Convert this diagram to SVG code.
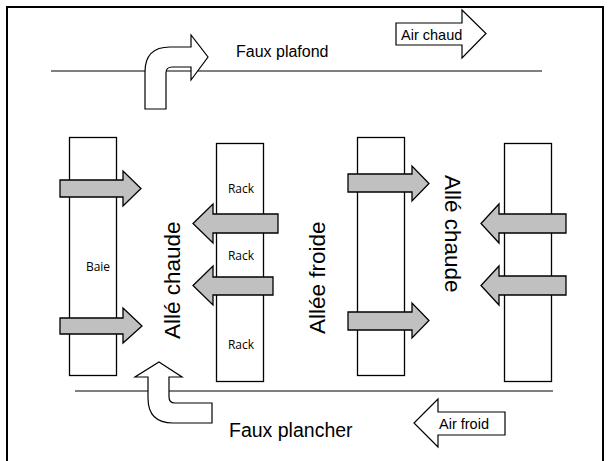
<svg xmlns="http://www.w3.org/2000/svg" width="609" height="461" viewBox="0 0 609 461">
<style>
.frame{fill:none;stroke:#000;stroke-width:2}
.ln{fill:none;stroke:#000;stroke-width:1}
.rack{fill:#fff;stroke:#000;stroke-width:1.3}
.ga{fill:#c0c0c0;stroke:#000;stroke-width:1.3;stroke-linejoin:miter}
.wa{fill:#fff;stroke:#000;stroke-width:1.2;stroke-linejoin:miter}
.lbl{font-family:"Liberation Sans",Arial,sans-serif;fill:#000}
.rk{font-family:"Open Sans","Noto Sans",sans-serif;font-size:12px;fill:#000;text-anchor:middle}
</style>
<rect class="frame" x="7" y="7" width="596" height="462"/>
<g id="lines">
<line class="ln" x1="51" y1="71" x2="542" y2="71"/>
<line class="ln" x1="75" y1="391" x2="553" y2="391"/>
</g>
<g id="col1"><rect class="rack" x="69.5" y="137.5" width="47" height="238"/><text class="rk" x="98" y="271">Baie</text></g>
<g id="col2"><rect class="rack" x="216.5" y="143.5" width="47" height="238"/>
<text class="rk" x="241" y="193">Rack</text><text class="rk" x="241" y="260">Rack</text><text class="rk" x="241" y="349">Rack</text></g>
<g id="col3"><rect class="rack" x="357.5" y="137.5" width="47" height="238"/></g>
<g id="col4"><rect class="rack" x="504.5" y="143.5" width="47" height="238"/></g>
<g id="connectors">
<path class="ga" d="M60,180 L123,180 L123,171 L141,188.5 L123,206 L123,197 L60,197 Z"/>
<path class="ga" d="M60,318 L123,318 L123,308 L142,326 L123,343 L123,334 L60,334 Z"/>
<path class="ga" d="M348,174 L412,174 L412,166 L429,183.5 L412,201 L412,192 L348,192 Z"/>
<path class="ga" d="M348,312 L412,312 L412,303 L429,320.5 L412,338 L412,330 L348,330 Z"/>
<path class="ga" d="M278,214 L213,214 L213,204 L193,223.5 L213,243 L213,233 L278,233 Z"/>
<path class="ga" d="M273,277 L213,277 L213,266 L193,285.5 L213,305 L213,295 L273,295 Z"/>
<path class="ga" d="M566,214 L499,214 L499,204 L481,223.5 L499,243 L499,233 L566,233 Z"/>
<path class="ga" d="M566,276 L499,276 L499,266 L481,285.5 L499,305 L499,295 L566,295 Z"/>
<path class="wa" d="M145,109 L145,72 Q145,47 170,47 L191,47 L191,35 L208,57 L191,80 L191,67 L172,67 Q166,67 166,73 L166,109 Z"/>
<path class="wa" d="M159,362 L182,377 L169,377 L169,397 Q169,403 175,403 L212,403 L212,423 L173,423 Q148,423 148,398 L148,377 L135,377 Z"/>
<path class="wa" d="M396,23 L462,23 L462,10 L486,33.5 L462,58 L462,45 L396,45 Z"/>
<path class="wa" d="M505,412 L438,412 L438,399 L414,423 L438,447 L438,435 L505,435 Z"/>
</g>
<g id="labels">
<text class="lbl" x="236" y="57" font-size="16">Faux plafond</text>
<text class="lbl" x="229" y="437" font-size="19.5">Faux plancher</text>
<text class="lbl" x="401" y="40" font-size="14.5">Air chaud</text>
<text class="lbl" x="439" y="429" font-size="14.5">Air froid</text>
<text class="lbl" font-size="22.5" transform="translate(180,339) rotate(-90)">Allé chaude</text>
<text class="lbl" font-size="22.5" transform="translate(325,334) rotate(-90)">Allée froide</text>
<text class="lbl" font-size="22.5" transform="translate(445,175) rotate(90)">Allé chaude</text>
</g>
</svg>
